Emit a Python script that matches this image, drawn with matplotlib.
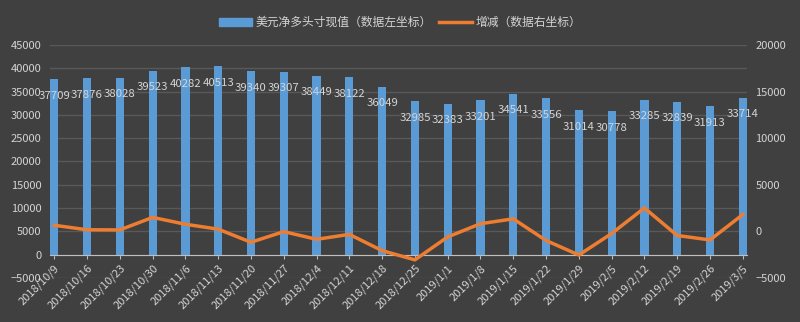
import numpy as np
import matplotlib
matplotlib.use('Agg')
import matplotlib.pyplot as plt

plt.rcParams['font.family'] = ['Noto Sans CJK SC', 'DejaVu Sans']

# Weekly data
dates = ['2018/10/9', '2018/10/16', '2018/10/23', '2018/10/30', '2018/11/6', '2018/11/13',
         '2018/11/20', '2018/11/27', '2018/12/4', '2018/12/11', '2018/12/18', '2018/12/25',
         '2019/1/1', '2019/1/8', '2019/1/15', '2019/1/22', '2019/1/29', '2019/2/5',
         '2019/2/12', '2019/2/19', '2019/2/26', '2019/3/5']
net_long = [37709, 37876, 38028, 39523, 40282, 40513, 39340, 39307, 38449, 38122, 36049,
            32985, 32383, 33201, 34541, 33556, 31014, 30778, 33285, 32839, 31913, 33714]
change = [650, 167, 152, 1495, 759, 231, -1173, -33, -858, -327, -2073,
          -3064, -602, 818, 1340, -985, -2542, -236, 2507, -446, -926, 1801]

bg = '#404040'
txt = '#d4d4d4'
grid_c = '#595959'
bar_c = '#5b9bd5'
line_c = '#ed7d31'

fig = plt.figure(figsize=(8, 3.22), dpi=100, facecolor=bg)
ax = fig.add_axes([0.0625, 0.137, 0.8713, 0.723], facecolor=bg)

x = np.arange(len(dates))

# Bars on the left axis, value labels just inside the top
bars = ax.bar(x, net_long, width=0.25, color=bar_c, zorder=2)
for xi, v in zip(x, net_long):
    ax.annotate(str(v), (xi, v), xytext=(0, -12), textcoords='offset points',
                ha='center', va='center', fontsize=8.2, color=txt, zorder=5)

ax.set_ylim(-5000, 45000)
ax.set_yticks(np.arange(-5000, 45001, 5000))
ax.set_xlim(-0.13, len(dates) - 1 + 0.13)
ax.yaxis.grid(True, color=grid_c, linewidth=1, zorder=0)
ax.set_axisbelow(True)

for s in ['top', 'right', 'left']:
    ax.spines[s].set_visible(False)
ax.spines['bottom'].set_position(('data', 0))
ax.spines['bottom'].set_color('#bfbfbf')
ax.spines['bottom'].set_zorder(3)

ax.set_xticks(x)
ax.set_xticklabels(dates, rotation=45, ha='right', rotation_mode='anchor')
ax.tick_params(axis='x', colors='#bfbfbf', labelcolor=txt, labelsize=8, length=3, pad=3)
ax.tick_params(axis='y', length=0, labelcolor=txt, labelsize=8, pad=6)

# Weekly change on the right axis
ax2 = ax.twinx()
ax2.plot(x, change, color=line_c, linewidth=2.5, zorder=4)
ax2.set_ylim(-5000, 20000)
ax2.set_yticks(np.arange(-5000, 20001, 5000))
ax2.tick_params(axis='y', length=0, labelcolor=txt, labelsize=8, pad=6)
for s in ax2.spines.values():
    s.set_visible(False)

# Legend
h1 = plt.Rectangle((0, 0), 1, 1, color=bar_c)
h2 = plt.Line2D([], [], color=line_c, linewidth=2.5)
leg = fig.legend([h1, h2], ['美元净多头寸现值（数据左坐标）', '增减（数据右坐标）'],
                 loc='center', bbox_to_anchor=(0.5, 0.93), ncol=2, frameon=False,
                 fontsize=8.5, labelcolor=txt, handlelength=2.8, handletextpad=0.3,
                 columnspacing=0.6)

fig.savefig('out.png', dpi=100, facecolor=bg)
